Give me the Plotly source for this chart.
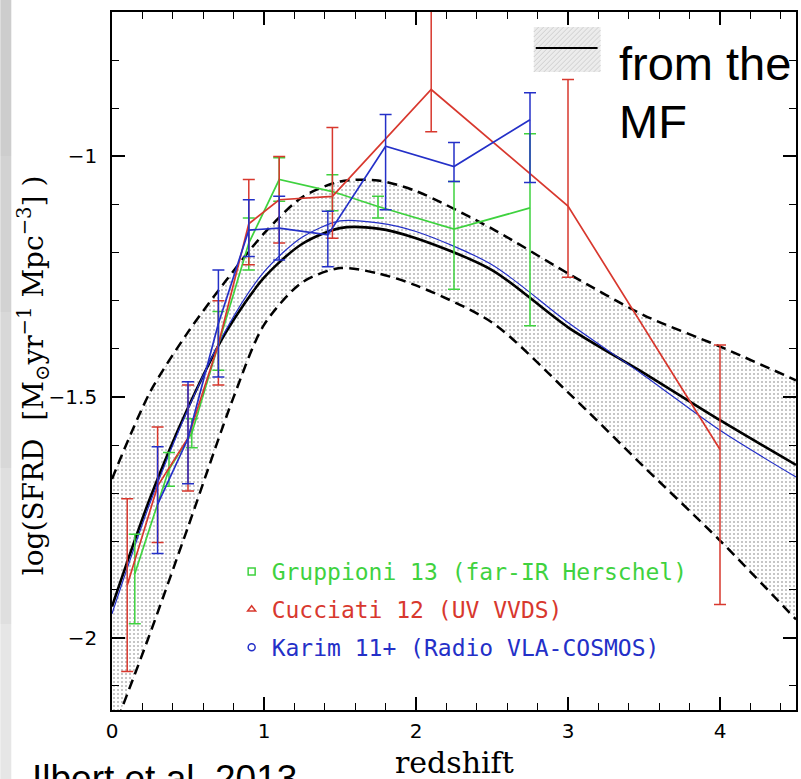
import plotly.graph_objects as go

# ---------------- data ----------------
# Gruppioni 13 (far-IR Herschel)
grup_z = [0.15, 0.375, 0.525, 0.7, 0.9, 1.1, 1.45, 1.75, 2.25, 2.75]
grup_y = [-1.867, -1.65, -1.575, -1.39, -1.18, -1.048, -1.073, -1.104, -1.151, -1.107]
grup_ep = [0.082, 0.035, 0.03, 0.068, 0.052, 0.045, 0.035, 0.021, 0.099, 0.154]
grup_em = [0.104, 0.035, 0.03, 0.054, 0.056, 0.045, 0.04, 0.024, 0.125, 0.245]

# Cucciati 12 (UV VVDS)
cuc_z = [0.1, 0.3, 0.5, 0.7, 0.9, 1.1, 1.45, 2.1, 3.0, 4.0]
cuc_y = [-1.891, -1.685, -1.585, -1.39, -1.14, -1.09, -1.083, -0.861, -1.103, -1.609]
cuc_ep = [0.18, 0.123, 0.11, 0.09, 0.092, 0.09, 0.143, 0.25, 0.263, 0.217]
cuc_em = [0.179, 0.117, 0.11, 0.085, 0.085, 0.09, 0.087, 0.088, 0.148, 0.322]

# Karim 11+ (Radio VLA-COSMOS)
kar_z = [0.3, 0.5, 0.7, 0.9, 1.1, 1.42, 1.8, 2.25, 2.75]
kar_y = [-1.723, -1.586, -1.347, -1.153, -1.149, -1.163, -0.979, -1.021, -0.924]
kar_ep = [0.12, 0.118, 0.111, 0.063, 0.066, 0.049, 0.066, 0.05, 0.056]
kar_em = [0.102, 0.094, 0.111, 0.055, 0.066, 0.066, 0.132, 0.031, 0.13]

# SFRD derived from the mass function: best fit (black), alternative (thin blue)
mf_z = [0, 0.25, 0.5, 0.75, 1.0, 1.25, 1.5, 1.75, 2.0, 2.5, 3.0, 3.5, 4.0, 4.5]
mf_y = [-1.935, -1.71, -1.522, -1.365, -1.252, -1.182, -1.149, -1.150, -1.170,
        -1.236, -1.355, -1.45, -1.548, -1.641]
mf2_z = [0, 0.25, 0.5, 0.75, 1.0, 1.25, 1.5, 1.75, 2.0, 2.5, 3.0, 3.5, 4.0, 4.5]
mf2_y = [-1.95, -1.72, -1.525, -1.36, -1.24, -1.168, -1.134, -1.138, -1.156,
         -1.225, -1.345, -1.455, -1.569, -1.666]

# uncertainty envelope (dashed)
up_z = [0, 0.25, 0.5, 0.75, 1.0, 1.25, 1.5, 1.75, 2.0, 2.5, 3.0, 3.5, 4.0, 4.5]
up_y = [-1.67, -1.49, -1.365, -1.258, -1.16, -1.085, -1.052, -1.05, -1.072, -1.15,
        -1.243, -1.33, -1.395, -1.465]
lo_z = [0, 0.24, 0.5, 0.8, 1.0, 1.25, 1.5, 1.75, 2.0, 2.5, 3.0, 3.5, 4.0, 4.5]
lo_y = [-2.2, -2.0, -1.77, -1.5, -1.35, -1.262, -1.232, -1.243, -1.268, -1.345,
        -1.49, -1.645, -1.798, -1.962]

x_ticks = [0, 1, 2, 3, 4]
x_ticktext = ["0", "1", "2", "3", "4"]
y_ticks = [-2, -1.5, -1]
y_ticktext = ["\u22122", "\u22121.5", "\u22121"]

series_names = ["Gruppioni 13 (far-IR Herschel)", "Cucciati 12 (UV VVDS)",
                "Karim 11+ (Radio VLA-COSMOS)"]

GREEN = "#3fd23f"
RED = "#d8382e"
BLUE = "#2430c8"

fig = go.Figure()

# envelope
fig.add_trace(go.Scatter(x=lo_z, y=lo_y, mode="lines",
                         line=dict(color="black", width=2.5, dash="10px,6px", shape="spline", smoothing=0.8),
                         showlegend=False, hoverinfo="skip"))
fig.add_trace(go.Scatter(x=up_z, y=up_y, mode="lines",
                         line=dict(color="black", width=2.5, dash="10px,6px", shape="spline", smoothing=0.8),
                         fill="tonexty", fillcolor="rgba(0,0,0,0)",
                         fillpattern=dict(shape=".", fgcolor="#666666", bgcolor="rgba(255,255,255,0)",
                                          size=4, solidity=0.2),
                         showlegend=False, hoverinfo="skip"))
fig.add_trace(go.Scatter(x=mf_z, y=mf_y, mode="lines",
                         line=dict(color="black", width=2.6, shape="spline", smoothing=0.8),
                         showlegend=False))
fig.add_trace(go.Scatter(x=mf2_z, y=mf2_y, mode="lines",
                         line=dict(color=BLUE, width=1.2, shape="spline", smoothing=0.8),
                         showlegend=False))


def data_trace(z, y, ep, em, color, symbol, size):
    return go.Scatter(
        x=z, y=y, mode="lines+markers",
        line=dict(color=color, width=1.7),
        marker=dict(symbol=symbol, size=size, color="rgba(0,0,0,0)", line=dict(color=color, width=1.7)),
        error_y=dict(type="data", array=ep, arrayminus=em, color=color, thickness=1.5, width=6),
        showlegend=False)


fig.add_trace(data_trace(grup_z, grup_y, grup_ep, grup_em, GREEN, "square-open", 9))
fig.add_trace(data_trace(cuc_z, cuc_y, cuc_ep, cuc_em, RED, "triangle-up-open", 11))
fig.add_trace(data_trace(kar_z, kar_y, kar_ep, kar_em, BLUE, "circle-open", 11))

# legend entries (markers only)
for name, color, symbol, grp in zip(series_names, [GREEN, RED, BLUE],
                                    ["square-open", "triangle-up-open", "circle-open"], ["g1", "g2", "g3"]):
    fig.add_trace(go.Scatter(x=[None], y=[None], mode="markers", legendgroup=grp,
                             name='<span style="color:%s">%s</span>' % (color, name),
                             marker=dict(symbol=symbol, size=7, color=color, line=dict(color=color, width=1.5))))

W, H = 801, 779
L, R, T, B = 112, 3, 12, 69
pw, ph = W - L - R, H - T - B


def px(xp):
    return (xp - L) / pw


def py(yp):
    return (H - B - yp) / ph


shapes = []
# gray slide strip at the left edge
for i, c in enumerate(["#cdcdcd", "#d2d2d2", "#d8d8d8", "#dfdfdf", "#e6e6e6"]):
    shapes.append(dict(type="rect", xref="paper", yref="paper", x0=px(0), x1=px(11),
                       y0=py(156 * (i + 1)), y1=py(156 * i), fillcolor=c, line=dict(width=0), layer="below"))
# "from the MF" key: light hatched box with a black line
shapes.append(dict(type="rect", xref="paper", yref="paper", x0=px(535), x1=px(602), y0=py(72), y1=py(27),
                   fillcolor="#ececec", line=dict(width=0)))
for k in range(-8, 20):
    xa = 535 + k * 5
    xb = xa + 45
    ya, yb = 72, 27
    x0, y0, x1, y1 = xa, ya, xb, yb
    if x0 < 535:
        y0 = ya - (535 - x0)
        x0 = 535
    if x1 > 602:
        y1 = yb + (x1 - 602)
        x1 = 602
    if x1 > x0:
        shapes.append(dict(type="line", xref="paper", yref="paper", x0=px(x0), x1=px(x1), y0=py(y0), y1=py(y1),
                           line=dict(color="#cfcfcf", width=1)))
shapes.append(dict(type="line", xref="paper", yref="paper", x0=px(537), x1=px(599), y0=py(48), y1=py(48),
                   line=dict(color="black", width=2)))

annotations = [
    dict(text="from the", x=px(618), y=py(64), xref="paper", yref="paper", xanchor="left", yanchor="middle",
         showarrow=False, font=dict(family="Liberation Sans", size=47, color="black")),
    dict(text="MF", x=px(618), y=py(121), xref="paper", yref="paper", xanchor="left", yanchor="middle",
         showarrow=False, font=dict(family="Liberation Sans", size=47, color="black")),
    dict(text="Ilbert et al. 2013", x=px(30), y=py(779), xref="paper", yref="paper", xanchor="left",
         yanchor="middle", showarrow=False, font=dict(family="Liberation Sans", size=37, color="black")),
    dict(text="redshift", x=0.5, y=py(762), xref="paper", yref="paper", xanchor="center", yanchor="middle",
         showarrow=False, font=dict(family="DejaVu Serif", size=30, color="black")),
    dict(text="log(SFRD\u00a0\u00a0[M<sub>\u2299</sub>yr<sup>\u22121</sup>\u00a0Mpc<sup>\u22123</sup>]\u00a0)",
         x=px(33), y=py(375), xref="paper", yref="paper", xanchor="center", yanchor="middle",
         textangle=-90, showarrow=False, font=dict(family="DejaVu Serif", size=28, color="black")),
]

axis_common = dict(showline=True, linecolor="black", linewidth=1.6, mirror="allticks", ticks="inside",
                   ticklen=13, tickwidth=1.5, tickcolor="black", showgrid=False, zeroline=False,
                   tickfont=dict(family="DejaVu Sans", size=20, color="black"))

fig.update_layout(
    width=W, height=H, margin=dict(l=L, r=R, t=T, b=B),
    paper_bgcolor="white", plot_bgcolor="white",
    xaxis=dict(range=[0, 4.5], tickmode="array", tickvals=x_ticks, ticktext=x_ticktext,
               ticklabelstandoff=2,
               minor=dict(ticks="inside", ticklen=7, tickwidth=1.2, tickcolor="black", tick0=0, dtick=0.2),
               **axis_common),
    yaxis=dict(range=[-2.15, -0.7], tickmode="array", tickvals=y_ticks, ticktext=y_ticktext,
               ticklabelstandoff=9,
               minor=dict(ticks="inside", ticklen=7, tickwidth=1.2, tickcolor="black", tick0=-2, dtick=0.1),
               **axis_common),
    legend=dict(x=px(232), y=py(550), xanchor="left", yanchor="top", bgcolor="rgba(0,0,0,0)",
                font=dict(family="DejaVu Sans Mono", size=23), traceorder="grouped", tracegroupgap=5,
                itemwidth=30),
    shapes=shapes, annotations=annotations,
)

fig.write_html("out.html")
